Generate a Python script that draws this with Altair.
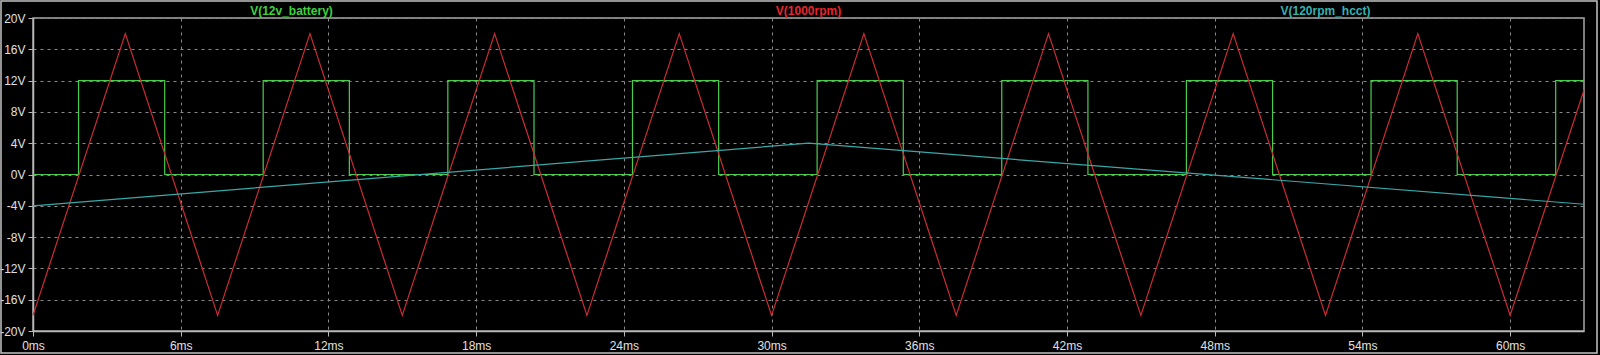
import altair as alt
import pandas as pd

# ---- data (time in ms, voltage in V) ----
battery_t = [0, 1.85, 1.85, 5.35, 5.35, 9.35, 9.35, 12.85, 12.85, 16.85, 16.85,
             20.35, 20.35, 24.35, 24.35, 27.85, 27.85, 31.85, 31.85, 35.35, 35.35,
             39.35, 39.35, 42.85, 42.85, 46.85, 46.85, 50.35, 50.35, 54.35, 54.35,
             57.85, 57.85, 61.85, 61.85, 63]
battery_v = [0, 0, 12, 12, 0, 0, 12, 12, 0, 0, 12,
             12, 0, 0, 12, 12, 0, 0, 12, 12, 0,
             0, 12, 12, 0, 0, 12, 12, 0, 0, 12,
             12, 0, 0, 12, 12]

rpm1000_t = [0, 3.75, 7.5, 11.25, 15, 18.75, 22.5, 26.25, 30, 33.75, 37.5,
             41.25, 45, 48.75, 52.5, 56.25, 60, 63]
rpm1000_v = [-18, 18, -18, 18, -18, 18, -18, 18, -18, 18, -18,
             18, -18, 18, -18, 18, -18, 10.8]

hcct_t = [0, 31.5, 63]
hcct_v = [-4, 4, -3.8]

series_names = ["V(12v_battery)", "V(1000rpm)", "V(120rpm_hcct)"]
series_colors = ["#4ccc4c", "#cc2c36", "#3aa8a8"]
title_colors = ["#3fd23f", "#e8262e", "#38b0b0"]
title_x = [10.5, 31.5, 52.5]

x_ticks = [0, 6, 12, 18, 24, 30, 36, 42, 48, 54, 60]
y_ticks = [-20, -16, -12, -8, -4, 0, 4, 8, 12, 16, 20]

# ---- build long table ----
rows = []
for name, ts, vs in zip(series_names,
                        [battery_t, rpm1000_t, hcct_t],
                        [battery_v, rpm1000_v, hcct_v]):
    for i, (t, v) in enumerate(zip(ts, vs)):
        rows.append({"series": name, "t": t, "v": v, "idx": i})
df = pd.DataFrame(rows)

titles = pd.DataFrame({"name": series_names, "x": title_x, "color": title_colors})

W, H = 1551, 313

xscale = alt.Scale(domain=[0, 63], nice=False, zero=False)
yscale = alt.Scale(domain=[-20, 20], nice=False)

lines = alt.Chart(df).mark_line(strokeWidth=1.2).encode(
    x=alt.X("t:Q", scale=xscale,
            axis=alt.Axis(values=x_ticks, labelExpr="datum.value + 'ms'",
                          title=None, grid=True, labelFlush=False)),
    y=alt.Y("v:Q", scale=yscale,
            axis=alt.Axis(values=y_ticks, labelExpr="datum.value + 'V'",
                          title=None, grid=True, labelFlush=False)),
    color=alt.Color("series:N",
                    scale=alt.Scale(domain=series_names, range=series_colors),
                    legend=None),
    detail="series:N",
    order=alt.Order("idx:Q"),
)

title_text = alt.Chart(titles).mark_text(
    fontSize=12, fontWeight="bold", font="Liberation Sans", baseline="middle", align="center"
).encode(
    x=alt.X("x:Q", scale=xscale),
    y=alt.value(-7.5),
    text="name:N",
    color=alt.Color("color:N", scale=None),
)

frame = alt.Chart(pd.DataFrame({"a": [0]})).mark_rect(
    fill=None, stroke="#c4c4c4", strokeWidth=1.5
).encode(
    x=alt.value(-32), x2=alt.value(W + 13),
    y=alt.value(-17), y2=alt.value(H + 22),
)

chart = alt.layer(lines, title_text, frame).properties(
    width=W, height=H,
    autosize=alt.AutoSizeParams(type="none"),
    padding={"left": 33, "top": 18, "right": 16, "bottom": 24},
    background="#000000",
).configure_view(
    fill="#000000", stroke="#a8a8a8", strokeWidth=1.5
).configure_axis(
    gridColor="#8a8a8a", gridDash=[3, 4], gridWidth=1, gridOpacity=1,
    domainColor="#b8b8b8", domainWidth=1.5,
    tickColor="#b8b8b8", tickSize=5, tickWidth=1,
    labelColor="#e0e0e0", labelFont="Liberation Sans", labelFontSize=12,
    labelPadding=3, labelOverlap=False,
).configure_axisX(
    labelPadding=4
)

chart.save("out.html", embed_options={"renderer": "svg", "actions": False})
